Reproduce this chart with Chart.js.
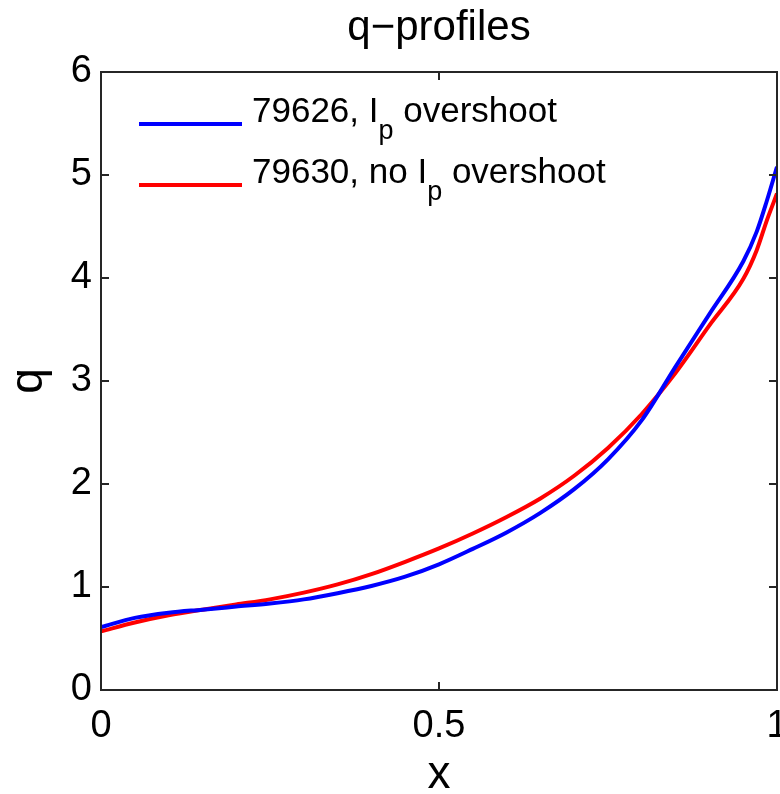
<!DOCTYPE html>
<html>
<head>
<meta charset="utf-8">
<script src="https://cdn.jsdelivr.net/npm/chart.js@4.4.1/dist/chart.umd.min.js"></script>
<style>
  html, body { margin: 0; padding: 0; background: #fff; }
</style>
</head>
<body>
<canvas id="qChart" width="780" height="794"></canvas>
<script>
// normalised radius
const xPos = [0, 0.05, 0.10, 0.15, 0.20, 0.25, 0.30, 0.35, 0.40, 0.45, 0.50, 0.55, 0.60, 0.65, 0.70, 0.75, 0.80, 0.85, 0.90, 0.95, 0.97, 0.985, 1.0];
// 79626, Ip overshoot
const qOvershoot = [0.61, 0.70, 0.75, 0.78, 0.81, 0.84, 0.88, 0.94, 1.01, 1.10, 1.22, 1.37, 1.53, 1.72, 1.95, 2.24, 2.62, 3.14, 3.65, 4.16, 4.45, 4.75, 5.08];
// 79630, no Ip overshoot
const qNoOvershoot = [0.57, 0.655, 0.725, 0.78, 0.83, 0.88, 0.945, 1.025, 1.125, 1.245, 1.375, 1.52, 1.68, 1.86, 2.08, 2.35, 2.68, 3.08, 3.54, 3.99, 4.27, 4.56, 4.82];

const legendPre = ['79626, I', '79630, no I'];
const legendSub = ['p', 'p'];
const legendPost = [' overshoot', ' overshoot'];
const lineColors = ['#0000ff', '#ff0000'];

const xTicks = [0, 0.5, 1];
const yTicks = [0, 1, 2, 3, 4, 5, 6];

const FONT = "'Liberation Sans', Arial, Helvetica, sans-serif";

const toPoints = ys => xPos.map((x, i) => ({ x: x, y: ys[i] }));

// box round the axes with inward ticks, matlab style
const framePlugin = {
    id: 'frame',
    afterDatasetsDraw(chart) {
        const { ctx, chartArea: a, scales } = chart;
        ctx.save();
        ctx.strokeStyle = '#262626';
        ctx.lineWidth = 2;
        ctx.strokeRect(a.left, a.top, a.right - a.left, a.bottom - a.top);
        ctx.beginPath();
        xTicks.forEach(v => {
            const px = scales.x.getPixelForValue(v);
            ctx.moveTo(px, a.bottom); ctx.lineTo(px, a.bottom - 8);
            ctx.moveTo(px, a.top); ctx.lineTo(px, a.top + 8);
        });
        yTicks.forEach(v => {
            const py = scales.y.getPixelForValue(v);
            ctx.moveTo(a.left, py); ctx.lineTo(a.left + 8, py);
            ctx.moveTo(a.right, py); ctx.lineTo(a.right - 8, py);
        });
        ctx.stroke();
        ctx.restore();
    }
};

// legend with subscript, no box
const legendPlugin = {
    id: 'subLegend',
    afterDraw(chart) {
        const { ctx, chartArea: a } = chart;
        ctx.save();
        legendPre.forEach((pre, i) => {
            const y = a.top + 52 + i * 61;
            ctx.strokeStyle = lineColors[i];
            ctx.lineWidth = 4;
            ctx.beginPath();
            ctx.moveTo(a.left + 38, y);
            ctx.lineTo(a.left + 141, y);
            ctx.stroke();

            const base = y - 2;
            let tx = a.left + 151;
            ctx.fillStyle = '#000';
            ctx.textBaseline = 'alphabetic';
            ctx.font = '35px ' + FONT;
            ctx.fillText(pre, tx, base);
            tx += ctx.measureText(pre).width;
            ctx.font = '27px ' + FONT;
            ctx.fillText(legendSub[i], tx, base + 17);
            tx += ctx.measureText(legendSub[i]).width;
            ctx.font = '35px ' + FONT;
            ctx.fillText(legendPost[i], tx, base);
        });
        ctx.restore();
    }
};

new Chart(document.getElementById('qChart'), {
    type: 'line',
    data: {
        datasets: [
            {
                label: '79626, Ip overshoot',
                data: toPoints(qOvershoot),
                borderColor: lineColors[0],
                borderWidth: 4,
                pointRadius: 0,
                cubicInterpolationMode: 'monotone',
                fill: false
            },
            {
                label: '79630, no Ip overshoot',
                data: toPoints(qNoOvershoot),
                borderColor: lineColors[1],
                borderWidth: 4,
                pointRadius: 0,
                cubicInterpolationMode: 'monotone',
                fill: false
            }
        ]
    },
    options: {
        responsive: false,
        animation: false,
        layout: { padding: { right: 3 } },
        scales: {
            x: {
                type: 'linear',
                min: 0,
                max: 1,
                afterFit: s => { s.height = 104; s.paddingLeft = 0; s.paddingRight = 0; },
                afterBuildTicks: s => { s.ticks = xTicks.map(v => ({ value: v })); },
                grid: { display: false, drawTicks: false },
                border: { display: false },
                ticks: {
                    color: '#000',
                    padding: 14,
                    maxRotation: 0,
                    font: { family: FONT, size: 38 },
                    callback: v => String(v)
                },
                title: {
                    display: true,
                    text: 'x',
                    color: '#000',
                    padding: 0,
                    font: { family: FONT, size: 46, lineHeight: 0.8 }
                }
            },
            y: {
                min: 0,
                max: 6,
                afterFit: s => { s.width = 101; s.paddingTop = 0; s.paddingBottom = 0; },
                afterBuildTicks: s => { s.ticks = yTicks.map(v => ({ value: v })); },
                grid: { display: false, drawTicks: false },
                border: { display: false },
                ticks: {
                    color: '#000',
                    padding: 9,
                    font: { family: FONT, size: 38 }
                },
                title: {
                    display: true,
                    text: 'q',
                    color: '#000',
                    padding: { top: 6, bottom: 0 },
                    font: { family: FONT, size: 46, lineHeight: 1 }
                }
            }
        },
        plugins: {
            legend: { display: false },
            tooltip: { enabled: false },
            title: {
                display: true,
                fullSize: false,
                text: 'q−profiles',
                color: '#000',
                padding: { top: 4, bottom: 20 },
                font: { family: FONT, size: 42, weight: 'normal', lineHeight: 1.143 }
            }
        }
    },
    plugins: [framePlugin, legendPlugin]
});
</script>
</body>
</html>
